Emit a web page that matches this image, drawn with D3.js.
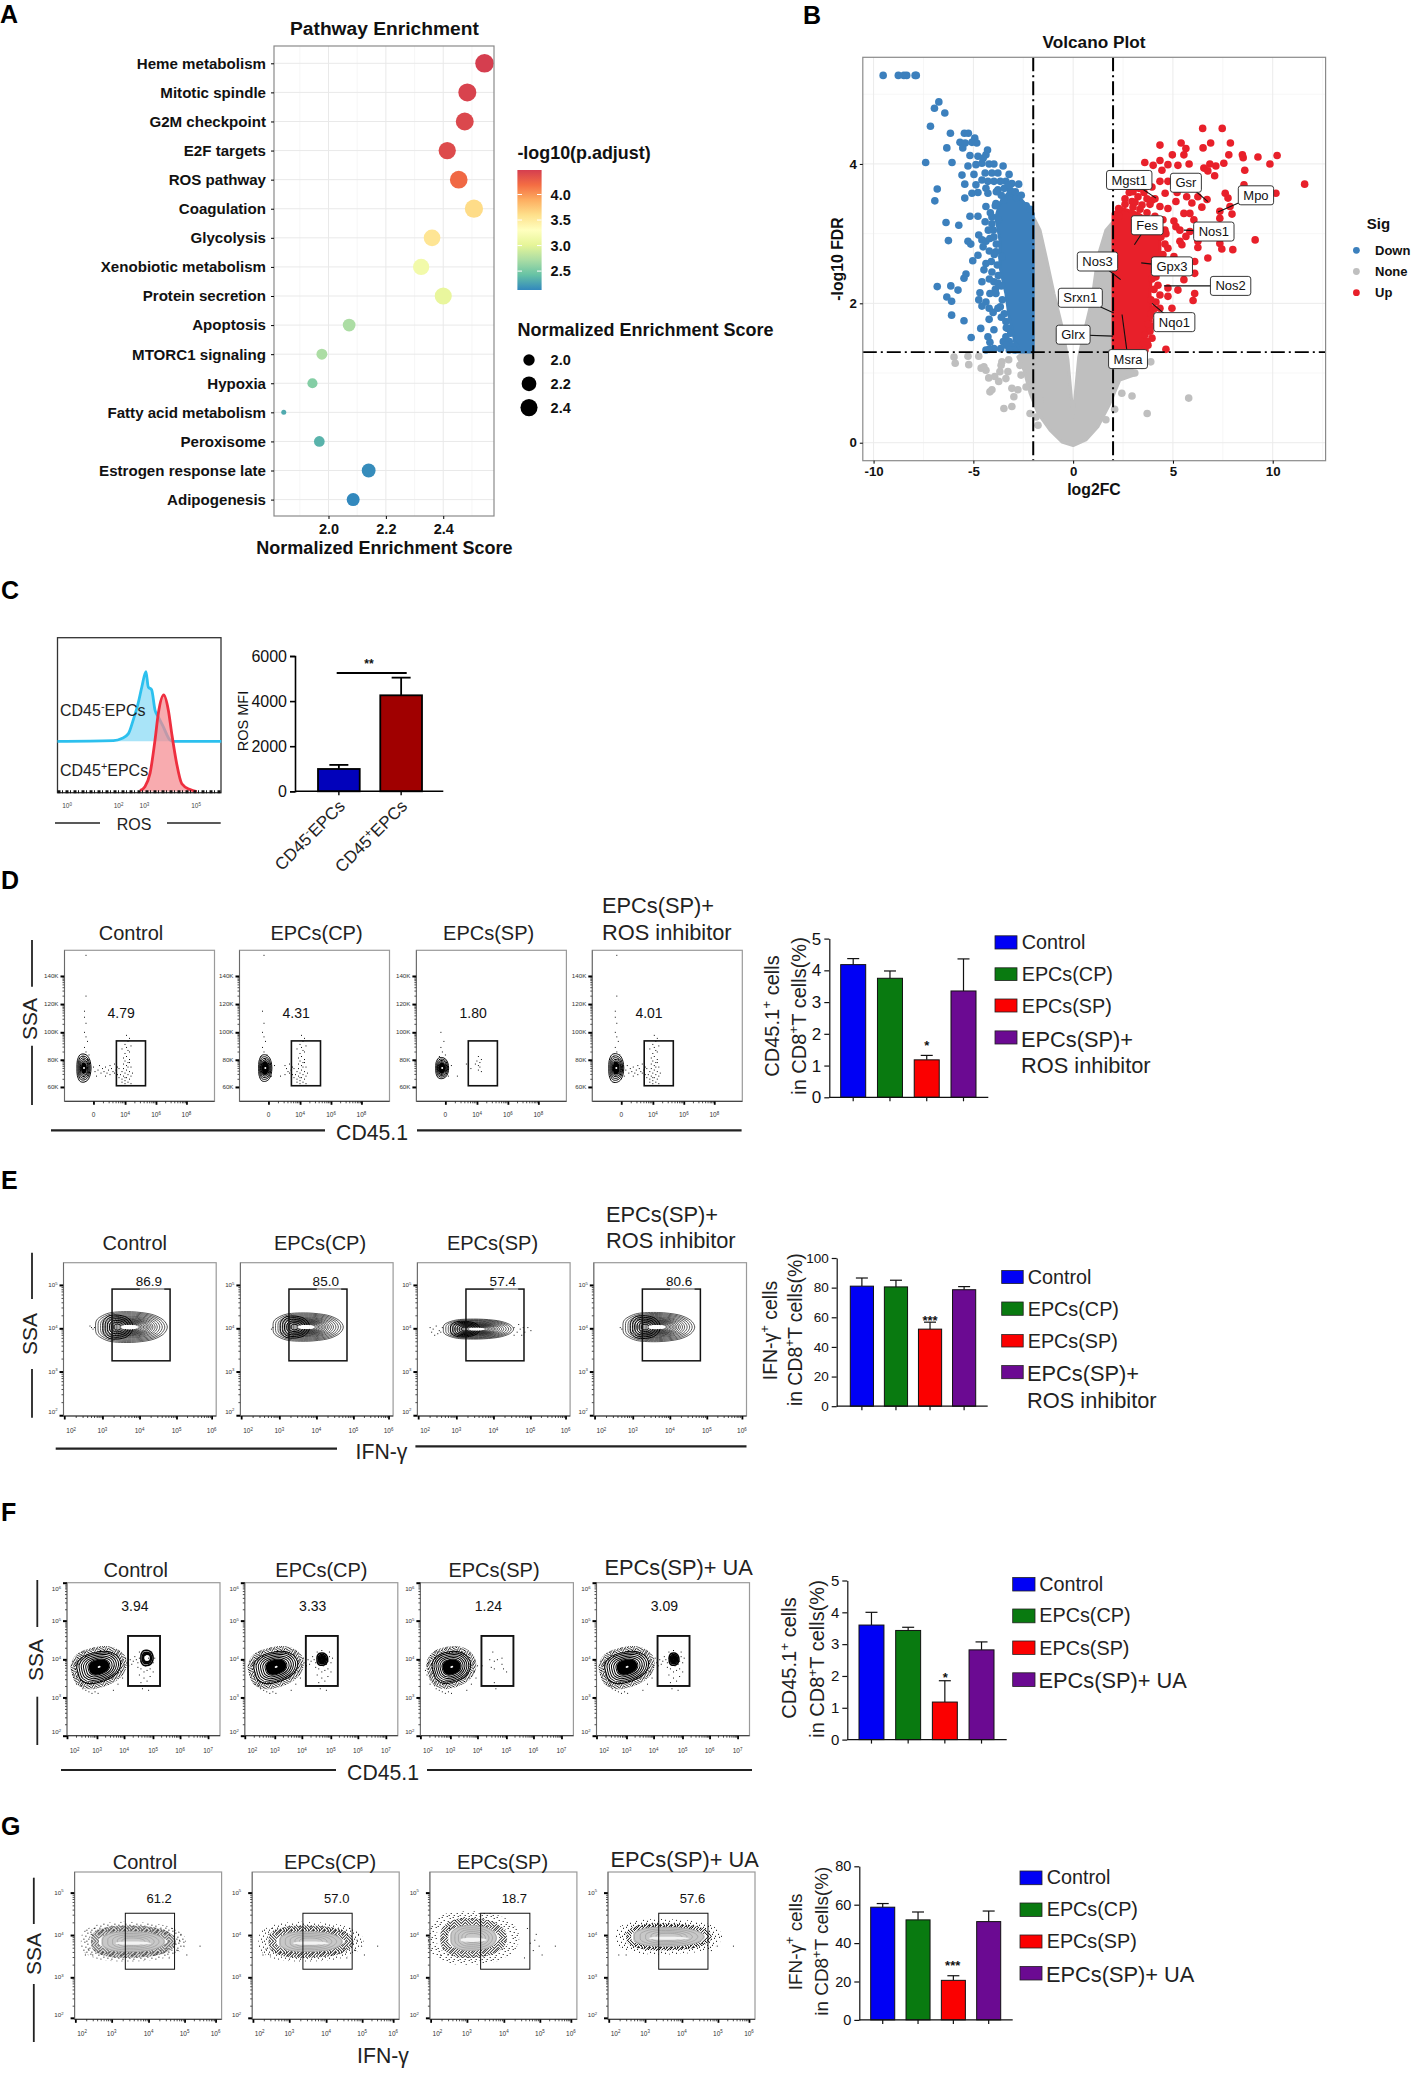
<!DOCTYPE html>
<html><head><meta charset="utf-8">
<script src="https://cdn.jsdelivr.net/npm/d3@7"></script>
<style>html,body{margin:0;padding:0;background:#fff}svg{display:block}</style>
</head><body><script>
/* ---------- Panel A data ---------- */
const pathways=['Heme metabolism','Mitotic spindle','G2M checkpoint','E2F targets','ROS pathway','Coagulation','Glycolysis','Xenobiotic metabolism','Protein secretion','Apoptosis','MTORC1 signaling','Hypoxia','Fatty acid metabolism','Peroxisome','Estrogen response late','Adipogenesis'];
const nes=[2.544,2.484,2.475,2.414,2.454,2.507,2.361,2.323,2.40,2.072,1.977,1.944,1.844,1.968,2.14,2.086];
const padj=[4.48,4.45,4.42,4.40,4.22,3.62,3.55,3.15,3.05,2.72,2.72,2.55,2.30,2.35,2.15,2.13];
const spectralStops=['#3288bd','#66c2a5','#abdda4','#e6f598','#ffffbf','#fee08b','#fdae61','#f46d43','#d53e4f'];
const padjTicks=[2.5,3.0,3.5,4.0];
const nesLegend=[2.0,2.2,2.4];
/* ---------- Panel B data ---------- */
const volcanoDown=[[-9.52,5.27],[-8.76,5.27],[-8.48,5.27],[-8.34,5.27],[-7.92,5.27],[-7.86,5.27],[-6.73,4.89],[-6.95,4.80],[-6.43,4.73],[-7.15,4.54],[-6.15,4.44],[-5.45,4.44],[-5.25,4.44],[-4.93,4.37],[-5.67,4.31],[-5.41,4.30],[-5.07,4.31],[-4.83,4.30],[-6.33,4.23],[-5.53,4.23],[-4.29,4.20],[-4.37,4.13],[-5.17,4.12],[-4.77,4.11],[-4.51,4.08],[-7.39,4.02],[-6.07,4.02],[-5.27,3.97],[-4.87,3.99],[-4.57,4.01],[-4.21,4.00],[-3.97,4.00],[-3.51,3.97],[-5.57,3.84],[-4.97,3.85],[-4.41,3.87],[-4.07,3.87],[-3.77,3.87],[-3.21,3.85],[-4.57,3.77],[-4.27,3.75],[-3.97,3.75],[-3.37,3.75],[-5.43,3.71],[-4.87,3.70],[-3.07,3.72],[-2.73,3.71],[-6.81,3.64],[-4.37,3.65],[-3.77,3.63],[-5.07,3.58],[-4.77,3.59],[-5.43,3.51],[-4.27,3.58],[-6.93,3.47],[-3.87,3.43],[-4.37,3.39],[-3.47,3.48],[-5.17,3.25],[-4.77,3.25],[-4.07,3.24],[-6.37,3.16],[-5.73,3.12],[-4.41,3.17],[-4.07,3.14],[-4.73,2.98],[-6.25,2.90],[-5.27,2.89],[-5.13,2.85],[-4.57,2.91],[-4.37,2.89],[-4.17,2.93],[-3.97,2.95],[-4.51,2.81],[-4.77,2.69],[-5.03,2.61],[-3.87,2.74],[-3.57,2.67],[-4.37,2.57],[-4.47,2.48],[-4.07,2.45],[-5.37,2.42],[-5.47,2.36],[-4.57,2.31],[-3.97,2.31],[-3.77,2.29],[-6.81,2.24],[-6.13,2.25],[-5.77,2.19],[-4.67,2.15],[-4.17,2.14],[-3.87,2.14],[-4.73,2.05],[-6.33,2.09],[-6.09,2.03],[-4.37,2.02],[-4.57,1.96],[-4.21,1.93],[-3.77,1.93],[-6.09,1.83],[-4.01,1.87],[-5.47,1.75],[-4.21,1.77],[-3.37,1.74],[-3.27,1.64],[-4.63,1.64],[-3.97,1.62],[-3.13,1.57],[-5.11,1.51],[-4.27,1.52],[-3.37,1.52],[-4.17,1.44],[-3.97,1.35],[-4.37,1.33],[-4.21,1.34],[-3.63,1.35],[-2.87,1.38],
 [-3.9,3.4],[-3.75,3.2],[-4.0,3.05],[-3.85,2.85],[-3.95,2.7],[-3.8,2.55],[-4.1,2.6],[-3.75,2.4],[-3.6,2.25],[-3.9,2.2],[-3.55,2.05],[-3.65,1.95],[-3.45,1.85],[-3.6,1.8],[-3.35,1.65],[-3.5,1.45],[-3.2,1.45],[-3.05,1.38],[-3.35,1.4],[-2.95,1.33],[-3.2,1.33],[-3.6,3.55],[-3.85,3.6],[-3.45,3.65],[-3.15,3.62],[-2.85,3.52],[-2.6,3.55],[-2.35,3.4],[-2.15,3.35],[-4.15,3.3],[-4.25,3.05],[-4.2,2.75],[-4.2,2.35],[-3.65,3.75],[-3.2,3.7],[-2.9,3.6]];
const volcanoUp=[[6.49,4.51],[7.47,4.51],[4.35,4.27],[5.41,4.30],[6.89,4.30],[7.88,4.30],[5.65,4.22],[6.51,4.23],[4.97,4.13],[5.55,4.13],[7.80,4.13],[8.48,4.13],[8.52,4.09],[9.26,4.10],[10.22,4.12],[3.59,4.02],[4.35,4.05],[4.75,3.99],[4.01,3.98],[5.25,3.98],[5.81,4.00],[6.85,4.00],[6.55,3.94],[7.15,3.97],[7.55,4.01],[9.86,4.00],[6.75,3.90],[8.60,3.91],[7.09,3.83],[4.45,3.91],[4.35,3.75],[4.75,3.75],[11.60,3.71],[8.56,3.70],[3.95,3.67],[4.61,3.58],[5.21,3.59],[3.55,3.59],[2.81,3.59],[3.25,3.53],[5.69,3.53],[6.25,3.53],[7.62,3.58],[7.76,3.51],[10.16,3.58],[6.71,3.49],[2.95,3.46],[3.95,3.48],[5.15,3.46],[5.95,3.44],[6.45,3.38],[7.86,3.39],[7.35,3.32],[7.96,3.28],[7.35,3.22],[2.28,3.36],[3.45,3.41],[4.35,3.39],[4.75,3.36],[5.55,3.29],[5.85,3.29],[5.05,3.18],[6.05,3.20],[5.15,3.10],[5.35,3.05],[5.85,3.03],[4.65,3.00],[5.65,2.96],[5.35,2.89],[6.25,2.89],[7.35,2.86],[7.45,2.78],[8.00,2.77],[9.12,2.91],[4.75,2.79],[5.45,2.84],[6.25,2.80],[6.75,2.65],[5.05,2.67],[4.65,2.60],[6.09,2.60],[6.09,2.43],[5.55,2.34],[4.15,2.38],[4.25,2.26],[4.75,2.22],[5.25,2.19],[6.09,2.14],[6.01,2.04],[4.35,2.12],[4.75,2.10],[4.15,2.02],[4.95,1.93],[4.35,1.93],[3.95,1.67],[4.15,1.74],[3.95,1.50],[3.75,1.40],[4.65,1.34],
 [2.3,3.25],[2.6,3.42],[3.0,3.38],[3.35,3.35],[3.7,3.3],[4.1,3.25],[4.5,3.2],[4.6,3.05],[4.4,2.95],[4.6,2.85],[4.5,2.7],[4.3,2.6],[4.1,2.52],[4.2,2.45],[3.95,2.35],[4.05,2.2],[3.9,2.05],[4.05,1.92],[3.9,1.85],[3.75,1.7],[3.85,1.6],[3.6,1.55],[3.7,1.45],[3.5,1.4],[3.3,1.34],[3.6,1.33],[2.6,3.5],[3.0,3.6],[3.3,3.65],[3.7,3.5],[3.1,3.45],[4.1,3.5],[3.85,3.42]];
const volcanoNone=[[-5.97,1.23],[-5.91,1.14],[-5.27,1.24],[-5.23,1.12],[-4.73,1.24],[-4.61,1.07],[-4.37,1.04],[-4.47,1.09],[-4.23,0.93],[-3.93,0.95],[-3.73,0.88],[-3.57,1.16],[-3.23,1.19],[-3.61,1.11],[-3.67,1.02],[-3.27,1.02],[-3.37,0.92],[-4.17,0.73],[-4.07,0.76],[-3.07,0.78],[-3.47,0.49],[-2.97,0.66],[-3.07,0.52],[-2.67,1.11],[-2.61,0.97],[-2.77,0.76],[-2.16,0.42],[-2.36,0.80],[-1.76,0.25],[-1.66,0.61],[-1.86,0.37],[2.95,0.67],[5.79,0.64],[3.71,0.42],[2.08,0.48],[1.64,0.33],[3.89,1.16],[3.09,1.00],[2.85,1.04],[3.45,1.11],[2.44,0.71]];
const noneDense=[[-1.96,3.22],[-1.66,3.05],[-1.36,2.67],[-0.96,2.14],[-0.56,1.67],[-0.26,1.19],[0,0.37],[0.28,1.23],[0.54,1.57],[0.94,2.05],[1.24,2.67],[1.64,3.05],[2.0,3.17],[2.0,1.30],[2.55,1.14],[3.05,0.97],[2.34,0.90],[1.84,0.56],[1.24,0.23],[0.64,0.04],[0,-0.04],[-0.56,0.01],[-1.16,0.18],[-1.76,0.42],[-2.16,0.71],[-2.46,1.04],[-2.77,1.23],[-2.36,1.33],[-2.0,1.33]];
const downDense=[[-2,3.29],[-2.57,3.48],[-3.27,3.58],[-3.67,3.44],[-3.87,3.24],[-3.67,2.91],[-3.67,2.53],[-3.37,2.14],[-3.21,1.81],[-2.97,1.52],[-2.87,1.30],[-2,1.30]];
const upDense=[[2,3.29],[2.44,3.36],[3.25,3.29],[4.35,3.10],[4.35,2.72],[3.95,2.48],[3.85,2.14],[3.95,1.81],[3.65,1.52],[3.35,1.30],[2,1.30]];
const geneNames=['Mgst1','Gsr','Mpo','Fes','Nos1','Nos3','Gpx3','Nos2','Srxn1','Nqo1','Glrx','Msra'];
const geneLabelPos=[[2.81,3.77],[5.65,3.73],[9.16,3.55],[3.71,3.12],[7.05,3.03],[1.22,2.60],[4.95,2.53],[7.89,2.25],[0.36,2.08],[5.07,1.73],[0,1.55],[2.75,1.20]];
const genePoint=[[4.15,3.51],[6.75,3.46],[7.26,3.31],[3.07,2.84],[5.55,3.05],[2.38,2.34],[3.41,2.58],[4.55,2.25],[2.04,1.86],[3.95,2.00],[2.0,1.53],[2.45,1.84]];
const sigLevels=['Down','None','Up'];
/* ---------- Panel C data ---------- */
const histNegX=[-0.37,1.80,2.12,2.38,2.57,2.76,2.90,3.06,3.15,3.28,3.41,3.54,3.73,3.99,4.12,5.98];
const histNegY=[0,1,4,11,31,55,78,100,78,74,45,35,21,2,0,0];
const histPosX=[2.83,3.02,3.22,3.41,3.54,3.75,3.93,4.06,4.25,4.45,4.77,5.03];
const histPosY=[1,5,19,53,81,100,84,60,29,8,2,0];
const rosGroups=['CD45^-EPCs','CD45^+EPCs'];
const rosVals=[990,4257];
const rosErr=[1170,5040];
/* ---------- Bar panels ---------- */
const groupsROS=['Control','EPCs(CP)','EPCs(SP)','EPCs(SP)+ ROS inhibitor'];
const groupsUA=['Control','EPCs(CP)','EPCs(SP)','EPCs(SP)+ UA'];
const barColors=['#0000f5','#097a10','#fb0000','#6b0a92'];
const barsD=[4.18,3.75,1.18,3.35], errD=[4.37,3.98,1.32,4.36];
const barsE=[81,80.5,52,78.6], errE=[86.5,85,56.7,80.7];
const barsF=[3.6,3.43,1.18,2.82], errF=[4.0,3.53,1.85,3.07];
const barsG=[58.7,52.1,20.6,51.2], errG=[60.6,56.2,23,56.7];
/* ---------- Flow percentages ---------- */
const pctD=['4.79','4.31','1.80','4.01'];
const pctE=['86.9','85.0','57.4','80.6'];
const pctF=['3.94','3.33','1.24','3.09'];
const pctG=['61.2','57.0','18.7','57.6'];
/* channel-unit specks (0-100 on each axis) */
const dGateSpecks=[[38,15],[39,17],[40,14],[41,16],[42,18],[43,15],[44,17],[38,20],[39,22],[40,19],[41,21],[42,23],[43,20],[39,25],[40,27],[41,24],[42,26],[43,28],[41,30],[40,32],[42,34],[41,36],[43,33],[40,38],[42,40],[43,42],[41,44],[44,23],[45,19],[37,18],[38,13],[36,16],[40,12],[42,13],[44,12],[39,29],[44,37],[38,35],[43,26],[40,16]];
const dBridgeSpecks=[[20,20],[22,21],[24,19],[25,22],[26,20],[27,23],[28,19],[29,21],[30,18],[31,22],[32,20],[33,19],[34,21],[35,18],[35,23],[30,24],[27,17],[23,24],[21,17],[33,25],[19,23],[36,22]];
const dTailSpecks=[[14,97],[13,60],[14,52],[13,46],[15,40],[13,36],[14,33],[16,31],[12,30],[15,28],[14,43],[13,56],[14,70]];
const eLeftSpecks=[[8,41],[10,40],[12,42],[14,39],[9,38],[13,37],[16,41],[15,38],[11,36]];
const eRightSpecks=[[63,41],[65,38],[66,43],[67,40],[68,36],[69,41],[63,36],[72,41],[74,39],[70,38]];
const fGateSpecks=[[50,50],[51,53],[52,48],[53,51],[54,49],[55,52],[53,47],[51,46],[49,52],[48,49],[47,51],[46,48],[45,50],[44,52],[43,49],[48,44],[50,42],[52,43],[54,44],[56,48],[57,51],[46,45],[50,38],[52,36],[48,35],[54,39],[51,33],[49,31],[53,30],[47,40],[56,42],[55,55],[50,56],[47,55],[42,47],[41,50],[40,46],[39,48],[38,51]];
const fSpray=[[4,40],[5,44],[6,38],[7,47],[8,36],[5,48],[9,33],[10,31],[12,30],[14,29],[16,28],[18,29],[20,28],[3,43],[6,34],[35,42],[36,38],[37,46],[33,34],[30,30],[7,51],[9,53],[11,55]];
const gOuterSpecks=[[7,44],[9,48],[11,58],[13,62],[12,44],[68,52],[70,47],[72,58],[74,50],[76,44],[66,62],[64,42],[85,50],[71,54]];
/* speckle textures for the dense rim of the flow clouds */
const speckDense=[[0,0],[2,0],[5,0],[8,0],[1,1],[4,1],[7,1],[10,1],[0,2],[3,2],[6,2],[9,2],[2,3],[5,3],[8,3],[10,3],[1,4],[3,4],[6,4],[9,4],[0,5],[4,5],[7,5],[2,6],[5,6],[8,6],[10,6],[1,7],[3,7],[6,7],[9,7],[0,8],[4,8],[7,8],[2,9],[5,9],[8,9],[10,9],[1,10],[3,10],[6,10],[9,10]];
const speckSparse=[[1,1],[6,0],[9,2],[3,4],[7,5],[0,6],[5,8],[10,8],[2,10],[8,10]];
/* outline of one contour level, relative to its cluster */
const blobOutline=[[1,0],[.88,.48],[.55,.84],[0,1],[-.6,.93],[-.95,.52],[-1,0],[-.95,-.52],[-.6,-.93],[0,-1],[.55,-.84],[.88,-.48]];
const levelsDense=[1,.85,.72,.6,.5];
const levelsE=[1,.93,.86,.79,.72,.66,.6,.55,.5,.46,.42,.38,.34,.3,.26,.22,.18];
const levelsEDark=[1,.85,.7,.55,.4,.25];
const levelsF=[1,.9,.8,.7,.6,.5,.44];
const levelsG=[.96,.8,.65,.5,.36];
const minorFractions=[.3,.48,.6,.7,.78,.85,.9,.95];

/* ---------- Setup ---------- */
const W=1416,H=2074,FONT='"Liberation Sans",Arial,sans-serif';
const svg=d3.select('body').append('svg').attr('width',W).attr('height',H).attr('viewBox',`0 0 ${W} ${H}`).style('font-family',FONT);
svg.append('rect').attr('width',W).attr('height',H).attr('fill','#fff');
const defs=svg.append('defs');
[['speckD',speckDense],['speckS',speckSparse]].forEach(([id,a])=>{
  const pt=defs.append('pattern').attr('id',id).attr('patternUnits','userSpaceOnUse').attr('width',11).attr('height',11);
  a.forEach(d=>pt.append('rect').attr('x',d[0]).attr('y',d[1]).attr('width',1).attr('height',1).attr('fill','#000'));
});

function T(sel,x,y,str,o={}){
  const s=o.size||14;
  const t=sel.append('text').attr('transform',`translate(${x},${y})`+(o.rot?` rotate(${o.rot})`:''))
    .attr('y',s*.35).attr('font-size',s).attr('font-weight',o.weight||'normal')
    .attr('text-anchor',o.anchor||'start').attr('fill',o.fill||'#111');
  let pend=0;
  str.split(/(\^.)/).filter(p=>p!=='').forEach(p=>{
    if(p[0]==='^'&&p.length===2){
      t.append('tspan').attr('dy',pend-.38*s).attr('font-size',s*.68).text(p[1]);pend=.38*s;
    }else{
      const sp=t.append('tspan').text(p); if(pend){sp.attr('dy',pend);pend=0;}
    }
  });
  return t;
}
const panelLetters=[['A',0,14],['B',803,15],['C',1,590],['D',1,880],['E',1,1180],['F',1,1512],['G',1,1826]];
panelLetters.forEach(([l,x,y])=>T(svg,x,y,l,{size:25,weight:'bold',fill:'#000'}));

/* ---------- Panel A ---------- */
(function(){
  const g=svg.append('g');
  const x=d3.scaleLinear().domain([1.81,2.577]).range([274,494]);
  const y=d3.scalePoint().domain(pathways).range([63.3,499.6]);
  const color=d3.scaleLinear().domain(spectralStops.map((_,i)=>2.13+i*(4.48-2.13)/(spectralStops.length-1))).range(spectralStops);
  const r=v=>2.5+6.8*Math.sqrt((v-1.844)/(2.544-1.844));
  [1.9,2.1,2.3,2.5].forEach(v=>g.append('line').attr('x1',x(v)).attr('x2',x(v)).attr('y1',46).attr('y2',516).attr('stroke','#f2f2f2').attr('stroke-width',.7));
  [2.0,2.2,2.4].forEach(v=>g.append('line').attr('x1',x(v)).attr('x2',x(v)).attr('y1',46).attr('y2',516).attr('stroke','#e9e9e9').attr('stroke-width',1));
  pathways.forEach(p=>g.append('line').attr('x1',274).attr('x2',494).attr('y1',y(p)).attr('y2',y(p)).attr('stroke','#e9e9e9').attr('stroke-width',1));
  g.append('g').selectAll('circle').data(pathways).join('circle')
    .attr('cx',(d,i)=>x(nes[i])).attr('cy',d=>y(d)).attr('r',(d,i)=>r(nes[i])).attr('fill',(d,i)=>color(padj[i]));
  g.append('rect').attr('x',274).attr('y',46).attr('width',220).attr('height',470).attr('fill','none').attr('stroke','#8a8a8a').attr('stroke-width',1.2);
  const ax=g.append('g').attr('transform','translate(0,516)').call(d3.axisBottom(x).tickValues([2.0,2.2,2.4]).tickFormat(d3.format('.1f')).tickSize(3));
  ax.select('.domain').remove();
  ax.selectAll('text').attr('font-size',14.5).attr('font-weight','bold').attr('fill','#111').attr('font-family',FONT).attr('dy','.85em');
  const ay=g.append('g').attr('transform','translate(274,0)').call(d3.axisLeft(y).tickSize(3));
  ay.select('.domain').remove();
  ay.selectAll('text').attr('font-size',15.1).attr('font-weight','bold').attr('fill','#111').attr('font-family',FONT).attr('dx','-2');
  T(g,384.4,28.4,'Pathway Enrichment',{size:19.2,weight:'bold',anchor:'middle'});
  T(g,384.4,548,'Normalized Enrichment Score',{size:18,weight:'bold',anchor:'middle'});
  T(g,517.4,153,'-log10(p.adjust)',{size:17.9,weight:'bold'});
  const grad=defs.append('linearGradient').attr('id','cb').attr('x1',0).attr('x2',0).attr('y1',1).attr('y2',0);
  spectralStops.forEach((c,i)=>grad.append('stop').attr('offset',i/(spectralStops.length-1)).attr('stop-color',c));
  g.append('rect').attr('x',517.4).attr('y',170).attr('width',24.2).attr('height',120).attr('fill','url(#cb)');
  const cy=d3.scaleLinear().domain([4.48,2.13]).range([170,290]);
  padjTicks.forEach(v=>{
    T(g,550.6,cy(v),d3.format('.1f')(v),{size:14.5,weight:'bold'});
    g.append('line').attr('x1',517.4).attr('x2',522).attr('y1',cy(v)).attr('y2',cy(v)).attr('stroke','#fff');
    g.append('line').attr('x1',537).attr('x2',541.6).attr('y1',cy(v)).attr('y2',cy(v)).attr('stroke','#fff');
  });
  T(g,517.4,329.8,'Normalized Enrichment Score',{size:18,weight:'bold'});
  const ly=d3.scalePoint().domain(nesLegend).range([360,407.6]);
  nesLegend.forEach(v=>{
    g.append('circle').attr('cx',529).attr('cy',ly(v)).attr('r',r(v)).attr('fill','#000');
    T(g,550.6,ly(v),d3.format('.1f')(v),{size:14.5,weight:'bold'});
  });
})();

/* ---------- Panel B ---------- */
(function(){
  const g=svg.append('g');
  const L=862.8,R=1325.6,Tp=57.3,B=460.7;
  const x=d3.scaleLinear().domain([-10.54,12.65]).range([L,R]);
  const y=d3.scaleLinear().domain([-0.258,5.53]).range([B,Tp]);
  [-7.5,-2.5,2.5,7.5,12.5].forEach(v=>g.append('line').attr('x1',x(v)).attr('x2',x(v)).attr('y1',Tp).attr('y2',B).attr('stroke','#f4f4f4').attr('stroke-width',.7));
  [1,3,5].forEach(v=>g.append('line').attr('x1',L).attr('x2',R).attr('y1',y(v)).attr('y2',y(v)).attr('stroke','#f4f4f4').attr('stroke-width',.7));
  [-10,-5,0,5,10].forEach(v=>g.append('line').attr('x1',x(v)).attr('x2',x(v)).attr('y1',Tp).attr('y2',B).attr('stroke','#ebebeb'));
  [0,2,4].forEach(v=>g.append('line').attr('x1',L).attr('x2',R).attr('y1',y(v)).attr('y2',y(v)).attr('stroke','#ebebeb'));
  const sigColor={Down:'#3c80bd',None:'#bfbfbf',Up:'#e8202a'};
  const line=d3.line().x(d=>x(d[0])).y(d=>y(d[1])).curve(d3.curveLinearClosed);
  const dense=(a,c)=>g.append('path').attr('d',line(a)).attr('fill',c).attr('stroke',c).attr('stroke-width',3).attr('stroke-linejoin','round');
  const pts=(a,c)=>g.append('g').selectAll('circle').data(a).join('circle').attr('cx',d=>x(d[0])).attr('cy',d=>y(d[1])).attr('r',3.8).attr('fill',c);
  dense(noneDense,sigColor.None); pts(volcanoNone,sigColor.None);
  dense(downDense,sigColor.Down); pts(volcanoDown,sigColor.Down);
  dense(upDense,sigColor.Up); pts(volcanoUp,sigColor.Up);
  const dash='14,4,2,4';
  [-2,2].forEach(v=>g.append('line').attr('x1',x(v)).attr('x2',x(v)).attr('y1',Tp).attr('y2',B).attr('stroke','#000').attr('stroke-width',2).attr('stroke-dasharray',dash));
  g.append('line').attr('x1',L).attr('x2',R).attr('y1',y(1.3)).attr('y2',y(1.3)).attr('stroke','#000').attr('stroke-width',1.8).attr('stroke-dasharray',dash);
  geneNames.forEach((n,i)=>{
    g.append('line').attr('x1',x(geneLabelPos[i][0])).attr('y1',y(geneLabelPos[i][1])).attr('x2',x(genePoint[i][0])).attr('y2',y(genePoint[i][1])).attr('stroke','#111').attr('stroke-width',1.1);
  });
  geneNames.forEach((n,i)=>{
    const cx=x(geneLabelPos[i][0]),cy=y(geneLabelPos[i][1]);
    const rect=g.append('rect').attr('fill','#fff').attr('stroke','#222').attr('stroke-width',.9).attr('rx',2.5);
    const t=T(g,cx,cy,n,{size:13,anchor:'middle'});
    const w=t.node().getComputedTextLength();
    rect.attr('x',cx-w/2-5).attr('y',cy-9.5).attr('width',w+10).attr('height',19);
  });
  g.append('rect').attr('x',L).attr('y',Tp).attr('width',R-L).attr('height',B-Tp).attr('fill','none').attr('stroke','#8a8a8a').attr('stroke-width',1.2);
  const ax=g.append('g').attr('transform',`translate(0,${B})`).call(d3.axisBottom(x).tickValues([-10,-5,0,5,10]).tickFormat(v=>String(v)).tickSize(3));
  ax.select('.domain').remove();
  ax.selectAll('text').attr('font-size',13.3).attr('font-weight','bold').attr('fill','#111').attr('font-family',FONT);
  const ay=g.append('g').attr('transform',`translate(${L},0)`).call(d3.axisLeft(y).tickValues([0,2,4]).tickFormat(d3.format('d')).tickSize(3));
  ay.select('.domain').remove();
  ay.selectAll('text').attr('font-size',13.3).attr('font-weight','bold').attr('fill','#111').attr('font-family',FONT);
  T(g,1094,41.5,'Volcano Plot',{size:17.2,weight:'bold',anchor:'middle'});
  T(g,1094,489,'log2FC',{size:15.8,weight:'bold',anchor:'middle'});
  T(g,837,259,'-log10 FDR',{size:15.8,weight:'bold',anchor:'middle',rot:-90});
  T(g,1366.8,224,'Sig',{size:15,weight:'bold'});
  const ly=d3.scalePoint().domain(sigLevels).range([250.3,292.7]);
  sigLevels.forEach(s=>{
    g.append('circle').attr('cx',1356.4).attr('cy',ly(s)).attr('r',3.4).attr('fill',sigColor[s]);
    T(g,1375,ly(s),s,{size:13,weight:'bold'});
  });
})();

/* ---------- Panel C ---------- */
(function(){
  const g=svg.append('g');
  const L=57.5,R=221,Tp=637.7,B=792.7;
  const x=d3.scaleLinear().domain([0,5]).range([67,196]);
  const yN=d3.scaleLinear().domain([0,100]).range([741.3,671.7]);
  const yP=d3.scaleLinear().domain([0,100]).range([791.5,695]);
  g.append('rect').attr('x',L).attr('y',Tp).attr('width',R-L).attr('height',B-Tp).attr('fill','#fff').attr('stroke','#333').attr('stroke-width',1.3);
  const neg=histNegX.map((v,i)=>[v,histNegY[i]]),pos=histPosX.map((v,i)=>[v,histPosY[i]]);
  const areaN=d3.area().x(d=>x(d[0])).y0(yN(0)).y1(d=>yN(d[1])).curve(d3.curveMonotoneX);
  const lineN=d3.line().x(d=>x(d[0])).y(d=>yN(d[1])).curve(d3.curveMonotoneX);
  const areaP=d3.area().x(d=>x(d[0])).y0(yP(0)).y1(d=>yP(d[1])).curve(d3.curveMonotoneX);
  const lineP=d3.line().x(d=>x(d[0])).y(d=>yP(d[1])).curve(d3.curveMonotoneX);
  g.append('path').attr('d',areaN(neg)).attr('fill','#a9e4f8');
  g.append('path').attr('d',lineN(neg)).attr('fill','none').attr('stroke','#2cc0ee').attr('stroke-width',2.8);
  g.append('path').attr('d',areaP(pos)).attr('fill','#f58a90').attr('fill-opacity',.72);
  g.append('path').attr('d',lineP(pos)).attr('fill','none').attr('stroke','#ee2f3f').attr('stroke-width',2.8);
  g.append('line').attr('x1',L).attr('x2',R).attr('y1',B-1).attr('y2',B-1).attr('stroke','#111').attr('stroke-width',3).attr('stroke-dasharray','3,1.5,1,2.5');
  T(g,60,710,'CD45^-EPCs',{size:16,fill:'#222'});
  T(g,60,770.7,'CD45^+EPCs',{size:16,fill:'#222'});
  [0,2,3,5].forEach(v=>T(g,x(v),806,'10^'+v,{size:6.5,anchor:'middle',fill:'#444'}));
  T(g,134,824,'ROS',{size:16,anchor:'middle',fill:'#222'});
  g.append('line').attr('x1',55).attr('x2',100).attr('y1',823).attr('y2',823).attr('stroke','#222').attr('stroke-width',1.6);
  g.append('line').attr('x1',167).attr('x2',220.7).attr('y1',823).attr('y2',823).attr('stroke','#222').attr('stroke-width',1.6);
  // bars
  const yb=d3.scaleLinear().domain([0,6000]).range([791.3,656]);
  const xb=d3.scaleBand().domain(rosGroups).range([318,422]).paddingInner(.33);
  const cols=['#0202bb','#a00000'];
  rosGroups.forEach((c,i)=>{
    const cx=xb(c)+xb.bandwidth()/2;
    g.append('line').attr('x1',cx).attr('x2',cx).attr('y1',yb(rosVals[i])).attr('y2',yb(rosErr[i])).attr('stroke','#000').attr('stroke-width',1.8);
    g.append('line').attr('x1',cx-9.5).attr('x2',cx+9.5).attr('y1',yb(rosErr[i])).attr('y2',yb(rosErr[i])).attr('stroke','#000').attr('stroke-width',1.8);
  });
  g.append('g').selectAll('rect').data(rosGroups).join('rect').attr('x',d=>xb(d)).attr('width',xb.bandwidth())
    .attr('y',(d,i)=>yb(rosVals[i])).attr('height',(d,i)=>yb(0)-yb(rosVals[i])).attr('fill',(d,i)=>cols[i]).attr('stroke','#000').attr('stroke-width',1.8);
  const ay=g.append('g').attr('transform','translate(295,0)').call(d3.axisLeft(yb).tickValues([0,2000,4000,6000]).tickSize(5).tickFormat(d3.format('d')));
  ay.selectAll('line,path').attr('stroke','#000').attr('stroke-width',1.6);
  ay.selectAll('text').attr('font-size',16).attr('fill','#111').attr('font-family',FONT);
  g.append('line').attr('x1',295).attr('x2',443.3).attr('y1',791.3).attr('y2',791.3).attr('stroke','#000').attr('stroke-width',1.6);
  const ax=g.append('g').attr('transform','translate(0,791.3)').call(d3.axisBottom(xb).tickSize(4).tickFormat(''));
  ax.select('.domain').remove(); ax.selectAll('line').attr('stroke','#000').attr('stroke-width',1.4);
  rosGroups.forEach(c=>T(g,xb(c)+xb.bandwidth()/2+3,803,c,{size:17,anchor:'end',rot:-45,fill:'#222'}));
  T(g,243,721,'ROS MFI',{size:14.5,anchor:'middle',rot:-90});
  g.append('line').attr('x1',336.7).attr('x2',406.7).attr('y1',673).attr('y2',673).attr('stroke','#000').attr('stroke-width',1.8);
  T(g,369,664,'**',{size:12,anchor:'middle',weight:'bold'});
})();

/* ---------- Bar helper ---------- */
function barPanel(c){
  const g=svg.append('g');
  const y=d3.scaleLinear().domain([0,c.max]).range([c.y0,c.yTop]);
  const x=d3.scaleBand().domain(c.groups).range(c.band).paddingInner(.32);
  c.groups.forEach((d,i)=>{
    const cx=x(d)+x.bandwidth()/2;
    g.append('line').attr('x1',cx).attr('x2',cx).attr('y1',y(c.vals[i])).attr('y2',y(c.errs[i])).attr('stroke','#111').attr('stroke-width',1.2);
    g.append('line').attr('x1',cx-6).attr('x2',cx+6).attr('y1',y(c.errs[i])).attr('y2',y(c.errs[i])).attr('stroke','#111').attr('stroke-width',1.2);
  });
  g.append('g').selectAll('rect').data(c.groups).join('rect').attr('x',d=>x(d)).attr('width',x.bandwidth())
    .attr('y',(d,i)=>y(c.vals[i])).attr('height',(d,i)=>c.y0-y(c.vals[i])).attr('fill',(d,i)=>barColors[i]).attr('stroke','#111').attr('stroke-width',1);
  const ay=g.append('g').attr('transform',`translate(${c.x0},0)`).call(d3.axisLeft(y).tickValues(c.ticks).tickSize(5).tickSizeOuter(0).tickFormat(d3.format('d')));
  ay.selectAll('line,path').attr('stroke','#111').attr('stroke-width',1.2);
  ay.selectAll('text').attr('font-size',c.tickSize).attr('fill','#111').attr('font-family',FONT);
  g.append('line').attr('x1',c.x0).attr('x2',c.xEnd).attr('y1',c.y0).attr('y2',c.y0).attr('stroke','#111').attr('stroke-width',1.2);
  const ax=g.append('g').attr('transform',`translate(0,${c.y0})`).call(d3.axisBottom(x).tickSize(4).tickFormat(''));
  ax.select('.domain').remove(); ax.selectAll('line').attr('stroke','#111').attr('stroke-width',1.2);
  c.ylab.forEach(l=>T(g,l.x,l.y,l.t,{size:l.size,anchor:'middle',rot:-90,fill:'#222'}));
  T(g,c.star.x,c.star.y,c.star.t,{size:c.star.size,anchor:'middle',weight:'bold'});
  c.legend.forEach((l,i)=>{
    g.append('rect').attr('x',c.lx).attr('width',c.lw).attr('y',l.y0).attr('height',l.y1-l.y0).attr('fill',barColors[i]).attr('stroke','#222').attr('stroke-width',.8);
  });
  c.legendText.forEach(l=>T(g,l.x,l.y,l.t,{size:l.t.includes('+')||l.t.startsWith('ROS')?21.8:19.8,fill:'#222'}));
}
barPanel({groups:groupsROS,vals:barsD,errs:errD,max:5,ticks:[0,1,2,3,4,5],x0:829.3,xEnd:988.3,y0:1097.3,yTop:938.6,band:[840.7,976],tickSize:17,
  ylab:[{x:771.7,y:1016,t:'CD45.1^+ cells',size:20},{x:799,y:1016,t:'in CD8^+T cells(%)',size:20}],star:{x:926.7,y:1045,t:'*',size:13},
  lx:995,lw:22,legend:[{y0:935.8,y1:949},{y0:967.8,y1:980.6},{y0:999,y1:1012},{y0:1030.9,y1:1044}],
  legendText:[{x:1021.7,y:942,t:'Control'},{x:1021.7,y:974,t:'EPCs(CP)'},{x:1021.7,y:1006,t:'EPCs(SP)'},{x:1021,y:1039.5,t:'EPCs(SP)+'},{x:1021,y:1065.3,t:'ROS inhibitor'}]});
barPanel({groups:groupsROS,vals:barsE,errs:errE,max:100,ticks:[0,20,40,60,80,100],x0:836.7,xEnd:987.7,y0:1406.2,yTop:1258,band:[850.3,975.7],tickSize:13.5,
  ylab:[{x:770,y:1330.5,t:'IFN-γ^+ cells',size:19.4},{x:795,y:1329.7,t:'in CD8^+T cells(%)',size:19.4}],star:{x:930,y:1320,t:'***',size:13},
  lx:1001.7,lw:21.5,legend:[{y0:1270.5,y1:1283.6},{y0:1302,y1:1315.3},{y0:1334.6,y1:1347},{y0:1365.6,y1:1378.7}],
  legendText:[{x:1027.7,y:1276.7,t:'Control'},{x:1027.7,y:1308.8,t:'EPCs(CP)'},{x:1027.7,y:1340.8,t:'EPCs(SP)'},{x:1027,y:1373.8,t:'EPCs(SP)+'},{x:1027,y:1400,t:'ROS inhibitor'}]});
barPanel({groups:groupsUA,vals:barsF,errs:errF,max:5,ticks:[0,1,2,3,4,5],x0:847.3,xEnd:1006.7,y0:1739.6,yTop:1580.5,band:[859,994],tickSize:15,
  ylab:[{x:789.3,y:1658,t:'CD45.1^+ cells',size:20},{x:817.3,y:1659,t:'in CD8^+T cells(%)',size:20}],star:{x:945.3,y:1677,t:'*',size:13},
  lx:1012.7,lw:22.3,legend:[{y0:1577.5,y1:1591},{y0:1609,y1:1622.8},{y0:1641,y1:1654.4},{y0:1672.8,y1:1686.5}],
  legendText:[{x:1039.3,y:1583.6,t:'Control'},{x:1039.3,y:1615,t:'EPCs(CP)'},{x:1039.3,y:1647.6,t:'EPCs(SP)'},{x:1038.5,y:1680.7,t:'EPCs(SP)+ UA'}]});
barPanel({groups:groupsUA,vals:barsG,errs:errG,max:80,ticks:[0,20,40,60,80],x0:859.3,xEnd:1012.7,y0:2019.9,yTop:1866.3,band:[870.7,1000.7],tickSize:14.5,
  ylab:[{x:795,y:1941.9,t:'IFN-γ^+ cells',size:18.9},{x:821.7,y:1941.2,t:'in CD8^+T cells(%)',size:18.9}],star:{x:952.7,y:1965,t:'***',size:13},
  lx:1020,lw:22,legend:[{y0:1871,y1:1884.7},{y0:1903,y1:1916.4},{y0:1935,y1:1948},{y0:1966.4,y1:1980}],
  legendText:[{x:1046.7,y:1877,t:'Control'},{x:1046.7,y:1908.9,t:'EPCs(CP)'},{x:1046.7,y:1941.2,t:'EPCs(SP)'},{x:1046,y:1974.6,t:'EPCs(SP)+ UA'}]});

/* ---------- Flow helper ---------- */
function flow(c,p){
  const g=svg.append('g').attr('transform',`translate(${p.x0},${c.y0})`);
  const x=d3.scaleLinear().domain([0,100]).range([0,c.w]);
  const y=d3.scaleLinear().domain([0,100]).range([c.h,0]);
  g.append('rect').attr('width',c.w).attr('height',c.h).attr('fill','#fff').attr('stroke','#9a9a9a').attr('stroke-width',1.2);
  const outline=d3.line().curve(d3.curveCardinalClosed.tension(.1));
  const blob=(b,l)=>outline(blobOutline.map(o=>[o[0]*l*b.rx*c.w/100,-o[1]*l*b.ry*c.h/100]));
  (p.clusters||[]).forEach(b=>{
    const cg=g.append('g').attr('transform',`translate(${x(b.cx)},${y(b.cy)}) rotate(${b.rot||0})`);
    if(b.halo2) cg.append('path').attr('d',blob(b,b.halo2)).attr('fill','none').attr('stroke','url(#speckS)').attr('stroke-width',b.halo2W);
    if(b.halo) cg.append('path').attr('d',blob(b,b.halo)).attr('fill','none').attr('stroke','url(#speckD)').attr('stroke-width',b.haloW);
    if(b.fill) cg.append('path').attr('d',blob(b,1)).attr('fill',b.fill);
    b.levels.forEach(l=>cg.append('path').attr('d',blob(b,l)).attr('fill','none').attr('stroke',b.stroke||'#000').attr('stroke-width',b.sw||.8));
    if(b.core) cg.append('path').attr('d',blob(b,b.core)).attr('fill',b.coreFill||'#000');
    if(b.eye) cg.append('ellipse').attr('rx',b.eye[0]).attr('ry',b.eye[1]).attr('fill','#fff');
  });
  g.append('g').selectAll('rect').data(p.specks||[]).join('rect').attr('x',d=>x(d[0])).attr('y',d=>y(d[1])).attr('width',1).attr('height',1).attr('fill','#111');
  const gt=c.gate;
  g.append('rect').attr('x',x(gt[0])).attr('y',y(gt[3])).attr('width',x(gt[1])-x(gt[0])).attr('height',y(gt[2])-y(gt[3])).attr('fill','none').attr('stroke','#111').attr('stroke-width',c.gateW);
  if(c.gateGrey) g.append('line').attr('x1',x(c.gateGrey[0])).attr('x2',x(c.gateGrey[1])).attr('y1',y(gt[3])).attr('y2',y(gt[3])).attr('stroke','#c4c4c4').attr('stroke-width',c.gateW);
  T(g,x(c.pct[0]),y(c.pct[1]),p.pct,{size:c.pctSize,anchor:'middle'});
  const minors=[];
  c.yMajor.forEach((v,i)=>{ if(c.yMajor[i+1]!==undefined) minorFractions.forEach(f=>minors.push(v+(c.yMajor[i+1]-v)*f)); });
  const ayMin=g.append('g').call(d3.axisLeft(y).tickValues(minors).tickFormat('').tickSize(2));
  ayMin.select('.domain').remove(); ayMin.selectAll('line').attr('stroke','#222').attr('stroke-width',.8);
  const ay=g.append('g').call(d3.axisLeft(y).tickValues(c.yMajor).tickFormat('').tickSize(4));
  ay.select('.domain').remove(); ay.selectAll('line').attr('stroke','#000').attr('stroke-width',2);
  const minorsX=[];
  c.xMajor.forEach((v,i)=>{ if(c.xMajor[i+1]!==undefined) minorFractions.forEach(f=>minorsX.push(v+(c.xMajor[i+1]-v)*f)); });
  const axMin=g.append('g').attr('transform',`translate(0,${c.h})`).call(d3.axisBottom(x).tickValues(minorsX).tickFormat('').tickSize(2));
  axMin.select('.domain').remove(); axMin.selectAll('line').attr('stroke','#222').attr('stroke-width',.8);
  const axM=g.append('g').attr('transform',`translate(0,${c.h})`).call(d3.axisBottom(x).tickValues(c.xMajor).tickFormat('').tickSize(3.5));
  axM.select('.domain').remove(); axM.selectAll('line').attr('stroke','#000').attr('stroke-width',1.8);
  g.append('line').attr('x1',0).attr('x2',c.w).attr('y1',c.h).attr('y2',c.h).attr('stroke','#111').attr('stroke-width',.8);
  g.append('line').attr('x1',0).attr('x2',0).attr('y1',0).attr('y2',c.h).attr('stroke','#555').attr('stroke-width',.7);
  c.xLabels.forEach(l=>T(g,x(l[0]),c.h+c.xLabOff,l[1],{size:6.5,anchor:'middle',fill:'#333'}));
  c.yLabels.forEach(l=>T(g,c.yLabX,y(l[0]),l[1],{size:6.2,anchor:'end',fill:'#333'}));
}
function annot(a){
  a.titles.forEach(t=>T(svg,t.x,t.y,t.t,{size:t.t.includes('+')||t.t.startsWith('ROS')?21.8:20,anchor:t.left?'start':'middle',fill:'#222'}));
  T(svg,a.ssa.x,a.ssa.y,'SSA',{size:21,anchor:'middle',rot:-90,fill:'#222'});
  a.ssa.segs.forEach(s=>svg.append('line').attr('x1',a.ssa.lx).attr('x2',a.ssa.lx).attr('y1',s[0]).attr('y2',s[1]).attr('stroke','#222').attr('stroke-width',1.8));
  T(svg,a.xl.x,a.xl.y,a.xl.t,{size:21.2,anchor:'middle',fill:'#222'});
  a.xl.segs.forEach(s=>svg.append('line').attr('x1',s[0]).attr('x2',s[1]).attr('y1',s[2]).attr('y2',s[2]).attr('stroke','#222').attr('stroke-width',2.2));
}

/* Panel D */
const sup=(n)=>'10^'+n;
const cD={y0:950.3,w:150,h:151,gate:[34.6,54,10.3,40],gateW:1.6,pct:[37.8,58.3],pctSize:14,yMajor:[9.5,27.5,45.7,64.4,83],xMajor:[19.3,40.4,61,81.3],
  xLabels:[[19.3,'0'],[40.4,sup(4)],[61,sup(6)],[81.3,sup(8)]],yLabels:[[83,'140K'],[64.4,'120K'],[45.7,'100K'],[27.5,'80K'],[9.5,'60K']],xLabOff:13.7,yLabX:-6};
const tailShift=(dx,n)=>dTailSpecks.slice(0,n).map(d=>[d[0]+dx,d[1]]);
[
 {x0:64.5,pct:pctD[0],clusters:[{cx:13,cy:22,rx:4.7,ry:9.3,levels:levelsDense,sw:1,core:.42,eye:[1,1]}],specks:[...dGateSpecks,...dBridgeSpecks,...tailShift(0,13)]},
 {x0:239.5,pct:pctD[1],clusters:[{cx:17.2,cy:22,rx:4.4,ry:8.8,levels:levelsDense,sw:1,core:.5,eye:[1,1]}],specks:[...dGateSpecks,...dBridgeSpecks.slice(8),...tailShift(2,11)]},
 {x0:416.4,pct:pctD[2],clusters:[{cx:17.2,cy:22,rx:4.3,ry:7,levels:levelsDense,sw:1,core:.5,eye:[1,1]}],specks:[...dGateSpecks.slice(10,19),...dBridgeSpecks.slice(16),...tailShift(3,9).slice(3)]},
 {x0:592.3,pct:pctD[3],clusters:[{cx:16,cy:22,rx:5,ry:9.5,levels:levelsDense,sw:1,core:.45,eye:[1,1]}],specks:[...dGateSpecks,...dBridgeSpecks,...tailShift(2,13)]}
].forEach(p=>flow(cD,p));
annot({titles:[{x:131,y:932.7,t:'Control'},{x:316.5,y:932.7,t:'EPCs(CP)'},{x:488.6,y:932.7,t:'EPCs(SP)'},{x:602,y:905,t:'EPCs(SP)+',left:1},{x:602,y:932.7,t:'ROS inhibitor',left:1}],
  ssa:{x:30,y:1019,lx:32,segs:[[940,986.7],[1045.7,1105]]},xl:{x:372,y:1133,t:'CD45.1',segs:[[51,325,1130.3],[417,741.6,1130.3]]}});

/* Panel E */
const cE={y0:1262.7,w:152.7,h:153.3,gate:[31.8,69.8,36,82.8],gateW:1.5,gateGrey:[50,66],pct:[55.9,88],pctSize:13.5,yMajor:[0.5,29,57.2,85.5],xMajor:[0.5,25.5,49.8,74,97],
  xLabels:[[5,sup(2)],[25.5,sup(3)],[49.8,sup(4)],[74,sup(5)],[97,sup(6)]],yLabels:[[85.5,sup(5)],[57.2,sup(4)],[29,sup(3)],[3,sup(2)]],xLabOff:14.7,yLabX:-6};
const eClust=(cx,cy,rx,ry)=>[
  {cx,cy,rx,ry,levels:levelsE,stroke:'#222',sw:.75},
  {cx:cx-rx*.38,cy,rx:rx*.42,ry:ry*.78,levels:levelsEDark,stroke:'#000',sw:1},
  {cx:cx-rx*.05,cy,rx:rx*.24,ry:ry*.14,levels:[],core:1,coreFill:'#fff'}];
[
 {x0:63.5,pct:pctE[0],clusters:eClust(44.5,58,23.5,10),specks:[[18,58],[20,58],[17,59],[19,57]]},
 {x0:240.4,pct:pctE[1],clusters:eClust(44.4,58,23,9.2),specks:[[20,57],[21,58]]},
 {x0:417.4,pct:pctE[2],clusters:eClust(40,56.7,23,6.5),specks:[...eLeftSpecks,...eRightSpecks].map(d=>[d[0],d[1]+17])},
 {x0:593.8,pct:pctE[3],clusters:eClust(42.6,58,23.5,9.5),specks:[[17,58],[18,57]]}
].forEach(p=>flow(cE,p));
annot({titles:[{x:134.8,y:1243.3,t:'Control'},{x:320,y:1243.3,t:'EPCs(CP)'},{x:492.5,y:1243.3,t:'EPCs(SP)'},{x:606,y:1214,t:'EPCs(SP)+',left:1},{x:606,y:1240,t:'ROS inhibitor',left:1}],
  ssa:{x:30,y:1334,lx:32,segs:[[1252.7,1299],[1369,1417.7]]},xl:{x:381.5,y:1451.7,t:'IFN-γ',segs:[[55.7,337,1448.7],[415.4,746.5,1446.3]]}});

/* Panel F */
const cF={y0:1582.7,w:153,h:153,gate:[39.9,60.8,32.5,65.2],gateW:1.9,pct:[44.4,85],pctSize:14,yMajor:[0,25,49.9,75.2,100],xMajor:[0,19.6,37.3,56.2,73.9,92.2],
  xLabels:[[4.9,sup(2)],[19.6,sup(3)],[37.3,sup(4)],[56.2,sup(5)],[73.9,sup(6)],[92.2,sup(7)]],yLabels:[[96,sup(6)],[75,sup(5)],[50,sup(4)],[25,sup(3)],[2.5,sup(2)]],xLabOff:15,yLabX:-6};
const fClust=(cx,rx,ry)=>({cx,cy:45,rx,ry,rot:-15,levels:levelsF,sw:1,core:.46,eye:[1.5,1],halo:1.12,haloW:7});
const fBlob=(cx,cy,rx,ry,eye)=>({cx,cy,rx,ry,levels:[1,.75],sw:1.5,core:.7,eye});
[
 {x0:67,pct:pctF[0],clusters:[fClust(21,14.4,9.8),fBlob(52.3,50.8,4,5,[2.8,3])],specks:[...fGateSpecks,...fSpray]},
 {x0:244.8,pct:pctF[1],clusters:[fClust(20.5,14.4,9.8),fBlob(50.7,50,3.5,4,null)],specks:[...fGateSpecks,...fSpray]},
 {x0:420.4,pct:pctF[2],clusters:[fClust(20.5,12.5,10)],specks:[...fGateSpecks.filter((d,i)=>i%3===0),...fSpray]},
 {x0:596.5,pct:pctF[3],clusters:[fClust(20,14.4,9.8),fBlob(50.7,50,3.2,4,null)],specks:[...fGateSpecks,...fSpray]}
].forEach(p=>flow(cF,p));
annot({titles:[{x:135.8,y:1570,t:'Control'},{x:321.4,y:1570,t:'EPCs(CP)'},{x:494,y:1570,t:'EPCs(SP)'},{x:678.6,y:1567.7,t:'EPCs(SP)+ UA'}],
  ssa:{x:35.8,y:1660,lx:37.3,segs:[[1580,1627],[1696.7,1745]]},xl:{x:383,y:1772.7,t:'CD45.1',segs:[[61,336,1770],[427,752,1770]]}});

/* Panel G */
const cG={y0:1872,w:147,h:147.3,gate:[34.5,68,34,72],gateW:1,pct:[57.5,82.3],pctSize:13,yMajor:[1,28.5,57.2,86],xMajor:[0.5,25.2,50.3,74.8,95.9],
  xLabels:[[5.1,sup(2)],[25.2,sup(3)],[50.3,sup(4)],[74.8,sup(5)],[95.9,sup(6)]],yLabels:[[86,sup(5)],[57.2,sup(4)],[28.5,sup(3)],[3,sup(2)]],xLabOff:14,yLabX:-11};
const gClust=(cx,cy,rx,ry,halo,haloW,halo2)=>[
  {cx,cy,rx,ry,levels:levelsG,stroke:'#9a9a9a',sw:.7,fill:'#c8c8c8',halo,haloW,halo2,halo2W:9},
  {cx,cy:cy-ry*.15,rx:rx*.55,ry:ry*.16,levels:[],core:1,coreFill:'#f2f2f2'}];
[
 {x0:74.6,pct:pctG[0],clusters:gClust(40,52.7,21.8,6.9,1.2,8,1.5),specks:gOuterSpecks},
 {x0:252.2,pct:pctG[1],clusters:gClust(40,52.7,21.8,6.9,1.2,8,1.5),specks:gOuterSpecks},
 {x0:429.9,pct:pctG[2],clusters:gClust(29.8,55.2,16,8.6,1.25,8,1.75),specks:gOuterSpecks},
 {x0:608,pct:pctG[3],clusters:gClust(41.5,56,24.5,6.6,1.12,5,1.35),specks:gOuterSpecks.filter((d,i)=>i%2===0)}
].forEach(p=>flow(cG,p));
annot({titles:[{x:145,y:1861.7,t:'Control'},{x:330,y:1861.7,t:'EPCs(CP)'},{x:502.5,y:1861.7,t:'EPCs(SP)'},{x:684.6,y:1859,t:'EPCs(SP)+ UA'}],
  ssa:{x:33.8,y:1954,lx:33.8,segs:[[1877.7,1924],[1984,2042]]},xl:{x:383,y:2056,t:'IFN-γ',segs:[]}});
</script></body></html>
